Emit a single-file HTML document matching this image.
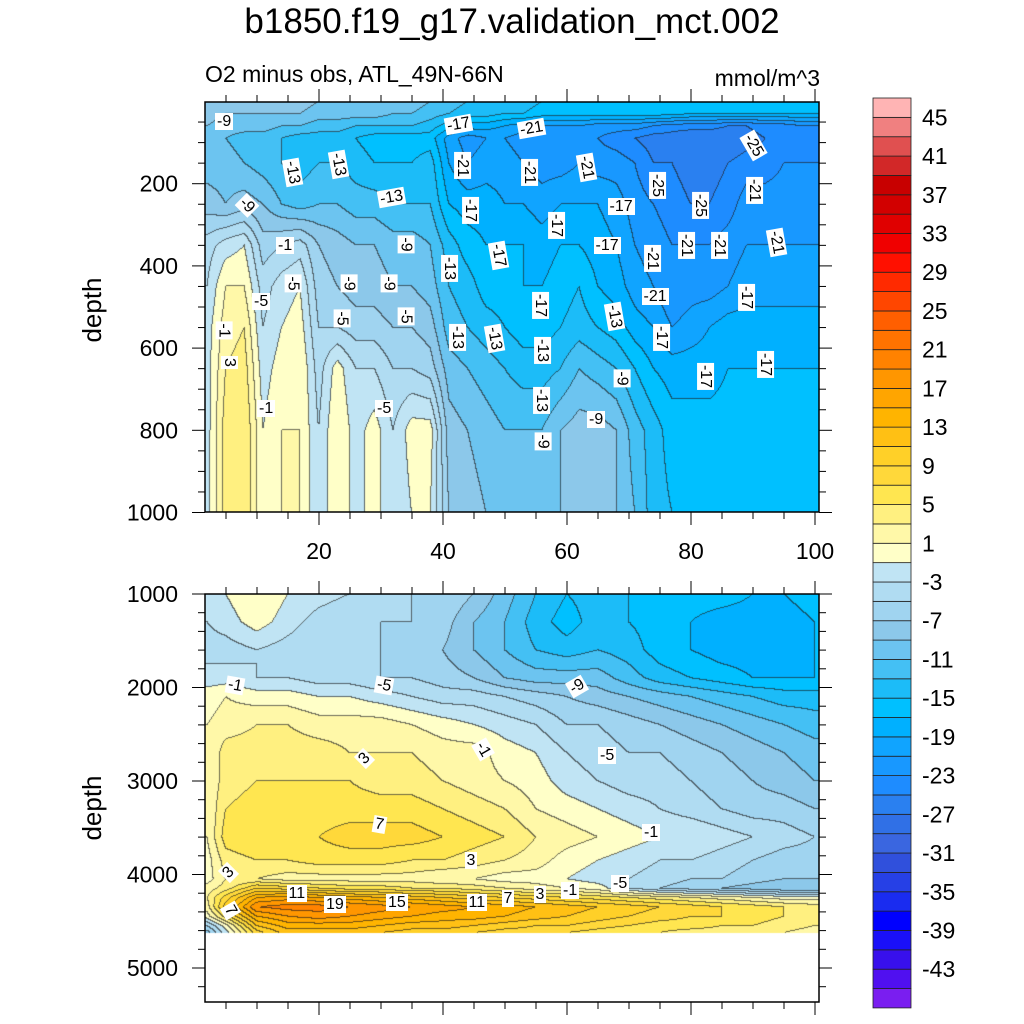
<!DOCTYPE html>
<html><head><meta charset="utf-8">
<style>
body{margin:0;background:#fff;width:1024px;height:1024px;position:relative;overflow:hidden;font-family:"Liberation Sans",sans-serif;}
canvas{position:absolute;}
.t{position:absolute;white-space:nowrap;color:#000;}
.cl{position:absolute;background:#fff;font-size:16px;line-height:17px;padding:0 2px;transform-origin:center;white-space:nowrap;}
</style></head><body>
<div class="t" style="left:0;width:1024px;text-align:center;top:2px;font-size:35px;">b1850.f19_g17.validation_mct.002</div>
<div class="t" style="left:205px;top:61px;font-size:23px;">O2 minus obs, ATL_49N-66N</div>
<div class="t" style="left:660px;width:160px;text-align:right;top:65px;font-size:23px;">mmol/m^3</div>
<canvas id="ctop" width="614" height="410" style="left:205px;top:102px"></canvas>
<canvas id="cbot" width="614" height="408" style="left:205px;top:594px"></canvas>
<svg id="axes" width="1024" height="1024" style="position:absolute;left:0;top:0"></svg>
<div id="labels"></div>
<script>
// ---------- data ----------
const levels = [];
for (let l = -45; l <= 45; l += 2) levels.push(l);
const binColors = ['#7a1ef0','#5010f0','#3810ec','#1a10f8','#0000ff','#1a2cf0','#2640e6','#3050dc','#3a66e0','#3070e6','#2a80f0','#1e8cff','#1898ff','#10a4ff','#00b0ff','#00c0ff','#1cbcf8','#44c0f4','#6cc4f0','#8cc8ea','#a0d4f0','#b0dcf2','#c0e4f4','#ffffc8','#fff8a8','#fff080','#ffe650','#ffd83a','#ffd028','#ffc014','#ffb400','#ffa500','#ff9600','#ff8200','#ff7300','#ff5f00','#ff4600','#ff2a00','#ff1000','#f00000','#e00000','#d20000','#c80000','#d22828','#e05050','#f08080','#ffb4b4'];
const colorbarLabels = [45,41,37,33,29,25,21,17,13,9,5,1,-3,-7,-11,-15,-19,-23,-27,-31,-35,-39,-43];

const topX = [2,5,8,11,14,17,20,23,26,29,32,35,38,41,44,47,50,53,56,59,62,65,68,71,74,77,80,83,86,89,92,95,98,100];
const topDepth = [0,30,60,90,150,250,350,450,550,650,800,1000];
const topValues = [
[-7,-8,-8,-8,-8,-8,-9,-9,-9,-9,-10,-10,-11,-12,-13,-13,-14,-14,-15,-15,-15,-15,-15,-15,-15,-15,-16,-16,-16,-16,-16,-16,-16,-16],
[-8,-9,-9,-9,-9,-9,-10,-10,-10,-10,-11,-11,-12,-13,-14,-14,-15,-15,-16,-16,-16,-16,-16,-16,-16,-16,-17,-17,-17,-17,-17,-17,-17,-17],
[-9,-10,-10,-10,-11,-11,-12,-12,-13,-13,-13,-13,-14,-16,-18,-18,-19,-20,-21,-21,-21,-22,-22,-22,-23,-24,-24,-24,-25,-25,-24,-24,-23,-23],
[-10,-11,-12,-12,-13,-14,-14,-14,-15,-16,-16,-16,-16,-20,-22,-21,-21,-22,-23,-23,-22,-23,-24,-25,-26,-26,-27,-27,-27,-26,-25,-25,-24,-24],
[-10,-10,-11,-12,-13,-14,-13,-13,-14,-15,-15,-15,-14,-19,-21,-20,-20,-21,-22,-22,-21,-22,-22,-23,-25,-25,-26,-26,-25,-24,-24,-23,-23,-23],
[-8,-9,-8,-9,-11,-12,-11,-11,-12,-12,-13,-13,-13,-17,-18,-18,-19,-19,-20,-19,-19,-19,-20,-22,-23,-24,-25,-25,-24,-22,-22,-22,-22,-22],
[-4,-2,-1,-6,-5,-4,-7,-8,-9,-9,-10,-10,-11,-14,-16,-17,-17,-17,-18,-17,-17,-18,-19,-21,-22,-23,-23,-23,-22,-21,-21,-21,-21,-21],
[-3,1,1,-4,-2,-1,-6,-7,-8,-8,-9,-9,-10,-13,-14,-16,-16,-17,-17,-16,-15,-17,-18,-20,-21,-23,-22,-22,-21,-20,-20,-20,-20,-20],
[-2,2,3,-3,-1,0,-5,-5,-6,-6,-7,-7,-8,-12,-13,-14,-15,-16,-16,-15,-14,-15,-16,-18,-19,-21,-20,-19,-18,-18,-18,-18,-18,-18],
[-2,3,4,-2,0,1,-4,0,-3,-3,-5,-5,-6,-10,-11,-12,-13,-14,-14,-13,-11,-12,-13,-15,-17,-18,-18,-18,-17,-17,-17,-17,-17,-17],
[-2,4,5,-1,1,1,-3,1,-2,0,-3,0,0,-8,-9,-10,-11,-11,-11,-9,-8,-8,-9,-12,-14,-16,-16,-16,-16,-16,-16,-16,-16,-16],
[-2,4,5,-1,1,1,-3,1,-2,0,-3,-1,-1,-7,-8,-9,-10,-10,-10,-9,-8,-8,-9,-11,-14,-15,-16,-16,-16,-16,-16,-16,-16,-15]
];

const botX = [2,5,10,15,20,25,30,35,40,45,50,55,60,65,70,75,80,85,90,95,100];
const botDepth = [1000,1300,1600,1900,2100,2400,2700,3000,3300,3600,3850,4050,4150,4250,4350,4450,4550,4625];
const botValues = [
[-2,-1,1,-1,-2,-3,-4,-5,-5,-7,-10,-13,-15,-14,-15,-16,-16,-16,-17,-17,-16],
[-3,-2,0,-2,-4,-5,-5,-5,-6,-9,-11,-14,-16,-14,-15,-16,-17,-18,-18,-18,-17],
[-4,-4,-3,-4,-5,-5,-5,-6,-7,-9,-11,-13,-14,-13,-14,-16,-17,-18,-18,-18,-17],
[-2,-2,-3,-3,-4,-4,-5,-5,-6,-7,-9,-10,-10,-10,-12,-14,-15,-16,-17,-17,-17],
[0,1,0,0,-1,-1,-2,-3,-4,-4,-5,-6,-7,-8,-9,-10,-11,-12,-13,-14,-14],
[1,2,3,3,2,2,2,1,0,-1,-2,-3,-5,-5,-6,-7,-8,-9,-10,-11,-12],
[1,4,4,4,4,3,3,3,2,2,0,-1,-3,-4,-5,-5,-6,-7,-8,-9,-10],
[1,4,5,5,5,5,4,4,3,2,1,0,-2,-3,-4,-4,-5,-6,-7,-8,-9],
[1,5,6,6,6,6,6,6,5,4,3,1,0,-1,-2,-3,-4,-5,-6,-6,-7],
[1,6,7,7,7,8,8,8,7,6,5,3,2,1,0,-1,-1,-2,-3,-4,-5],
[0,4,5,5,6,6,6,5,5,4,3,2,0,-1,-2,-3,-3,-4,-5,-6,-6],
[0,3,3,2,2,2,2,2,1,1,0,0,-1,-2,-3,-4,-5,-5,-6,-7,-7],
[2,4,9,8,7,6,6,5,5,4,3,2,1,0,-3,-5,-6,-7,-8,-9,-9],
[3,8,15,16,15,14,13,12,11,10,9,8,7,6,5,4,3,2,1,0,0],
[2,10,19,20,20,19,18,17,16,15,14,13,12,11,10,9,8,7,6,5,4],
[0,6,15,17,18,17,16,15,14,14,13,12,11,10,9,8,7,7,6,5,4],
[-5,0,11,14,14,14,13,12,12,11,10,9,9,8,7,6,6,5,5,4,3],
[-8,-2,8,12,12,12,11,10,10,9,8,8,7,6,5,5,4,4,3,3,2]
];

// contour labels: [text, x(px), y(px), rotation]
const topLabels = [['-9',224,121,0],['-17',458,124,-10],['-21',531,128,-10],['-25',753,145,60],['-13',292,172,80],['-13',338,164,80],['-21',462,165,90],['-21',529,172,90],['-21',586,167,80],['-25',657,185,90],['-25',700,205,90],['-21',754,190,90],['-9',247,205,45],['-13',391,197,-10],['-17',621,206,0],['-17',470,210,90],['-17',556,225,90],['-1',285,245,0],['-9',406,244,90],['-17',498,255,80],['-17',607,245,0],['-21',652,258,90],['-21',686,245,90],['-21',719,245,90],['-21',776,242,80],['-13',449,268,90],['-5',293,283,90],['-9',349,283,90],['-9',389,283,90],['-5',261,301,0],['-21',655,296,0],['-17',746,297,90],['-1',224,330,90],['-5',342,318,90],['-5',406,316,90],['-13',457,337,90],['-13',494,338,80],['-17',540,305,90],['-13',614,316,80],['-17',661,337,90],['-13',542,350,90],['3',229,362,90],['-17',705,376,90],['-17',765,364,90],['-9',622,378,90],['-1',266,408,0],['-5',384,408,0],['-13',541,400,90],['-9',596,419,0],['-9',543,441,90]];
const botLabels = [['-1',235,685,10],['-5',384,685,10],['-9',577,686,-30],['-1',483,749,60],['3',364,758,-45],['-5',607,755,0],['7',379,824,10],['-1',651,832,0],['3',471,860,0],['3',228,872,-45],['11',297,893,0],['7',230,910,60],['19',335,904,0],['15',397,902,0],['11',477,902,0],['7',508,898,0],['3',540,894,0],['-1',570,890,0],['-5',620,883,0]];

// ---------- axis functions ----------
const xToPx = x => 195 + x * 6.2;
const topDToPx = d => 101.5 + d * 0.411;
const botDToPx = d => 594 + (d - 1000) * 0.0935;
const pxToX = p => (p - 195) / 6.2;
const topPxToD = p => (p - 101.5) / 0.411;
const botPxToD = p => 1000 + (p - 594) / 0.0935;

function seg(arr, v) {
  if (v <= arr[0]) return [0, 0];
  if (v >= arr[arr.length - 1]) return [arr.length - 2, 1];
  let i = 0; while (arr[i + 1] < v) i++;
  return [i, (v - arr[i]) / (arr[i + 1] - arr[i])];
}
function interp(xs, ds, vals, x, d) {
  const [i, fx] = seg(xs, x), [j, fy] = seg(ds, d);
  const a = vals[j][i], b = vals[j][i + 1], c = vals[j + 1][i], e = vals[j + 1][i + 1];
  return (a * (1 - fx) + b * fx) * (1 - fy) + (c * (1 - fx) + e * fx) * fy;
}
function binOf(v) { let k = Math.floor((v + 45) / 2) + 1; return Math.max(0, Math.min(46, k)); }
function hex(c) { return [parseInt(c.substr(1, 2), 16), parseInt(c.substr(3, 2), 16), parseInt(c.substr(5, 2), 16)]; }
const rgb = binColors.map(hex);

function drawPanel(id, left, top, xs, ds, vals, pxToD, maxD) {
  const cv = document.getElementById(id), ctx = cv.getContext('2d');
  const W = cv.width, H = cv.height;
  const img = ctx.createImageData(W, H);
  const bins = new Int16Array(W * H);
  for (let py = 0; py < H; py++) {
    const d = pxToD(top + py + 0.5);
    for (let px = 0; px < W; px++) {
      const x = pxToX(left + px + 0.5);
      bins[py * W + px] = d > maxD ? -1 : binOf(interp(xs, ds, vals, x, d));
    }
  }
  for (let py = 0; py < H; py++) for (let px = 0; px < W; px++) {
    const k = py * W + px, b = bins[k], o = k * 4;
    if (b < 0) { img.data[o] = img.data[o + 1] = img.data[o + 2] = 255; img.data[o + 3] = 255; continue; }
    let c = rgb[b].slice();
    const r = px < W - 1 ? bins[k + 1] : b, dn = py < H - 1 ? bins[k + W] : b;
    if ((r >= 0 && r !== b) || (dn >= 0 && dn !== b)) c = c.map(v => v * 0.35 + 20);
    img.data[o] = c[0]; img.data[o + 1] = c[1]; img.data[o + 2] = c[2]; img.data[o + 3] = 255;
  }
  ctx.putImageData(img, 0, 0);
}
drawPanel('ctop', 205, 102, topX, topDepth, topValues, topPxToD, 1e9);
drawPanel('cbot', 205, 594, botX, botDepth, botValues, botPxToD, 4625);

// ---------- axes ----------
const svg = document.getElementById('axes');
const NS = 'http://www.w3.org/2000/svg';
function el(tag, attrs, name) {
  const e = document.createElementNS(NS, tag);
  for (const k in attrs) e.setAttribute(k, attrs[k]);
  
  
  svg.appendChild(e); return e;
}
function txt(s, x, y, anchor, size, name, rot) {
  const t = el('text', {x: x, y: y, 'text-anchor': anchor, 'font-size': size, 'font-family': 'Liberation Sans, sans-serif'}, name);
  if (rot) t.setAttribute('transform', 'rotate(' + rot + ' ' + x + ' ' + y + ')');
  t.textContent = s;
}
const L = 205, R = 819;
el('rect', {x: L, y: 102, width: R - L, height: 410, fill: 'none', stroke: '#000', 'stroke-width': 1.5}, 'upper-plot-frame');
el('rect', {x: L, y: 594, width: R - L, height: 408, fill: 'none', stroke: '#000', 'stroke-width': 1.5}, 'lower-plot-frame');
for (let x = 5; x <= 100; x += 5) {
  const p = xToPx(x), major = x % 20 === 0, len = major ? 13 : 7;
  el('line', {x1: p, x2: p, y1: 102, y2: 102 - len, stroke: '#000', 'stroke-width': 1}, 'x-tick');
  el('line', {x1: p, x2: p, y1: 512, y2: 512 + len, stroke: '#000', 'stroke-width': 1}, 'x-tick');
  el('line', {x1: p, x2: p, y1: 594, y2: 594 - len, stroke: '#000', 'stroke-width': 1}, 'x-tick');
  el('line', {x1: p, x2: p, y1: 1002, y2: 1002 + len, stroke: '#000', 'stroke-width': 1}, 'x-tick');
  if (major) txt(String(x), p, 559, 'middle', 23, 'x-tick-label');
}
for (let d = 50; d <= 1000; d += 50) {
  const p = topDToPx(d), major = d % 200 === 0, len = major ? 13 : 7;
  el('line', {x1: L, x2: L - len, y1: p, y2: p, stroke: '#000', 'stroke-width': 1}, 'y-tick');
  el('line', {x1: R, x2: R + len, y1: p, y2: p, stroke: '#000', 'stroke-width': 1}, 'y-tick');
  if (major) txt(String(d), 178, p + 8, 'end', 23, 'y-tick-label');
}
for (let d = 1000; d <= 5300; d += 200) {
  const p = botDToPx(d), major = d % 1000 === 0, len = major ? 13 : 7;
  el('line', {x1: L, x2: L - len, y1: p, y2: p, stroke: '#000', 'stroke-width': 1}, 'y-tick');
  el('line', {x1: R, x2: R + len, y1: p, y2: p, stroke: '#000', 'stroke-width': 1}, 'y-tick');
  if (major) txt(String(d), 178, p + 8, 'end', 23, 'y-tick-label');
}
txt('depth', 101, 310, 'middle', 26, 'y-axis-title-upper', -90);
txt('depth', 101, 808, 'middle', 26, 'y-axis-title-lower', -90);
const cbTop = 98, binH = 19.36;
for (let i = 0; i < binColors.length; i++) {
  const y = cbTop + (binColors.length - 1 - i) * binH;
  el('rect', {x: 873, y: y, width: 38, height: binH, fill: binColors[i], stroke: '#222', 'stroke-width': 0.8}, 'colorbar-bin');
}
for (const v of colorbarLabels) {
  const y = cbTop + binH * (1 + (45 - v) / 2);
  txt(String(v), 922, y + 8, 'start', 23, 'colorbar-label');
}
const lab = document.getElementById('labels');
for (const arr of [topLabels, botLabels]) for (const [s, x, y, r] of arr) {
  const d = document.createElement('div');
  d.className = 'cl';
  
  
  d.textContent = s;
  lab.appendChild(d);
  const w = d.offsetWidth, h = d.offsetHeight;
  d.style.left = (x - w / 2) + 'px'; d.style.top = (y - h / 2) + 'px';
  d.style.transform = 'rotate(' + r + 'deg)';
}
</script>
</body></html>
